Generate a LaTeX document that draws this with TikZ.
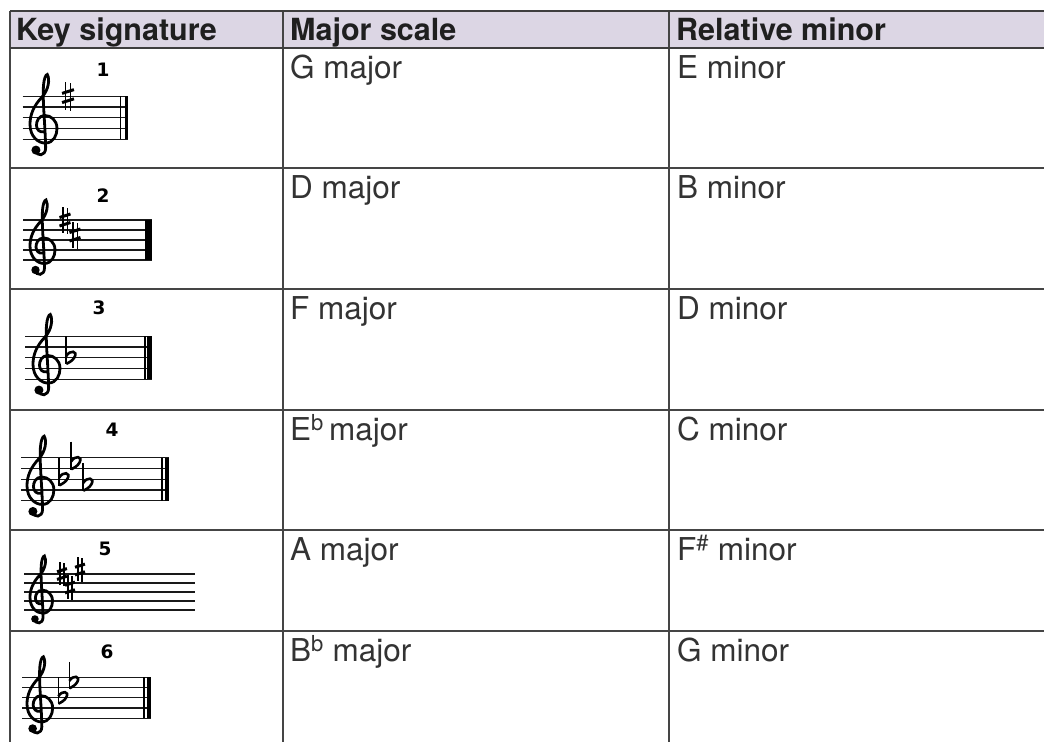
\documentclass[tikz,border=0pt]{standalone}
\usepackage{fontspec}
\setmainfont{TeX Gyre Heros}
\newfontfamily\numfont{DejaVu Sans}
\definecolor{hdrfill}{HTML}{DCD6E4}
\definecolor{rulecol}{HTML}{454545}
\definecolor{txtcol}{HTML}{333333}
\tikzset{
  gridline/.style={draw=rulecol, line width=1.6pt},
  hdrline/.style={draw=rulecol!90!black, line width=2.2pt},
  hdrtext/.style={anchor=base west, inner sep=0pt, text=black!88, font=\fontsize{30.5}{36}\selectfont\bfseries},
  celltext/.style={anchor=base west, inner sep=0pt, text=txtcol, font=\fontsize{31.5}{37}\selectfont},
  numlabel/.style={inner sep=0pt, text=black, font=\numfont\fontsize{18.5}{22}\selectfont\bfseries},
  staffline/.style={draw=black!90, line width=1.2pt},
  clefline/.style={draw=black, line width=2.8pt, line cap=round},
}
\newcommand\mysharp[4]{% x, Ybot, sp, pos
  \begin{scope}[shift={(#1,{#2-#4*#3})}, x=#3pt, y=#3pt]
    \draw[black, line width=1.4pt] (-0.22,-1.25) -- (-0.22,1.35);
    \draw[black, line width=1.4pt] (0.22,-1.35) -- (0.22,1.25);
    \draw[black, line width=3pt] (-0.55,-0.6) -- (0.55,-0.25);
    \draw[black, line width=3pt] (-0.55,0.25) -- (0.55,0.6);
  \end{scope}}
\newcommand\myflat[4]{% x, Ybot, sp, pos
  \begin{scope}[shift={(#1,{#2-#4*#3})}, x=#3pt, y=#3pt]
    \draw[black, line width=1.5pt] (-0.35,2.0) -- (-0.35,-0.6);
    \draw[black, line width=2.6pt] (-0.35,0.15) .. controls (0,0.75) and (0.75,0.65) .. (0.42,0.05)
       .. controls (0.25,-0.28) and (-0.1,-0.45) .. (-0.35,-0.57);
  \end{scope}}
\newcommand\myclef[3]{% x left, Ybot, sp
  \begin{scope}[shift={(#1,#2)}, x=#3pt, y=#3pt]
    \draw[clefline] (0.55,-1.05) .. controls (0.6,-1.6) and (1.45,-1.6) .. (1.45,-0.8)
      .. controls (1.4,1.5) and (1.15,3.5) .. (1.25,5.0)
      .. controls (1.3,5.6) and (1.45,6.0) .. (1.6,6.0)
      .. controls (1.85,5.6) and (1.75,4.6) .. (1.1,3.9)
      .. controls (0.35,3.1) and (0.0,2.3) .. (0.0,1.4)
      .. controls (0.0,0.2) and (0.8,-0.35) .. (1.4,-0.35)
      .. controls (2.2,-0.35) and (2.5,0.4) .. (2.5,1.0)
      .. controls (2.5,1.8) and (1.9,2.2) .. (1.4,2.2)
      .. controls (0.8,2.2) and (0.6,1.7) .. (0.6,1.3)
      .. controls (0.6,0.9) and (0.9,0.6) .. (1.3,0.7);
    \fill[black] (0.55,-1.0) circle (0.42);
  \end{scope}}
\newcommand\mystaff[4]{% x0, x1, Ybot, sp
  \foreach \k in {0,...,4} \draw[staffline] (#1,{#3-\k*#4}) -- (#2,{#3-\k*#4});}
\newcommand\mybar[5]{% thin x, thick x, thick width, Ybot, sp
  \draw[black, line width=1.1pt] (#1,#4) -- (#1,{#4-4*#5});
  \draw[black, line width=#3pt] (#2,#4) -- (#2,{#4-4*#5});}
\begin{document}
\begin{tikzpicture}[x=1pt,y=-1pt]
\useasboundingbox (0,0) rectangle (1044,742);
\fill[white] (0,0) rectangle (1044,742);
\fill[hdrfill] (10,11) rectangle (1044,48);
% grid
\foreach \yy in {168,289,410,530,631} \draw[gridline] (10,\yy) -- (1044,\yy);
\foreach \xx in {10,283,669} \draw[gridline] (\xx,11) -- (\xx,742);
\draw[hdrline] (10,11) -- (1044,11);
\draw[hdrline] (10,48) -- (1044,48);
% header
\node[hdrtext] (h1) at (16,40.5) {Key signature};
\node[hdrtext] (h2) at (290,40.5) {Major scale};
\node[hdrtext] (h3) at (676,40.5) {Relative minor};
% cells
\node[celltext] (m1) at (290,78) {G major};
\node[celltext] (r1) at (677,78) {E minor};
\node[celltext] (m2) at (290,198) {D major};
\node[celltext] (r2) at (677,198) {B minor};
\node[celltext] (m3) at (290,319) {F major};
\node[celltext] (r3) at (677,319) {D minor};
\node[celltext] (m4) at (290,440) {E\textsuperscript{b}\,major};
\node[celltext] (r4) at (677,440) {C minor};
\node[celltext] (m5) at (290,560) {A major};
\node[celltext] (r5) at (677,560) {F\textsuperscript{\#} minor};
\node[celltext] (m6) at (290,661) {B\textsuperscript{b} major};
\node[celltext] (r6) at (677,661) {G minor};
% staff 1
\mystaff{22.7}{127.7}{139.3}{10.8}
\mybar{120.7}{126}{3}{139.3}{10.8}
\myclef{30}{139.3}{10.8}
\mysharp{68}{139.3}{10.8}{4}
\node[numlabel] (k1) at (103,70) {1};
% staff 2
\mystaff{23}{152}{260}{10}
\mybar{146}{149.5}{5}{260}{10}
\myclef{30}{260}{10}
\mysharp{65}{260}{10}{4}
\mysharp{75}{260}{10}{2.5}
\node[numlabel] (k2) at (103,196) {2};
% staff 3
\mystaff{25}{152}{379.3}{10.8}
\mybar{145}{149.5}{5}{379.3}{10.8}
\myclef{33}{379.3}{10.8}
\myflat{70}{379.3}{10.8}{2}
\node[numlabel] (k3) at (99,308) {3};
% staff 4
\mystaff{21}{169}{500.7}{10.75}
\mybar{162}{167}{4.5}{500.7}{10.75}
\myclef{27}{500.7}{10.75}
\myflat{63}{500.7}{10.75}{2}
\myflat{75}{500.7}{10.75}{3.5}
\myflat{87}{500.7}{10.75}{1.5}
\node[numlabel] (k4) at (112,430) {4};
% staff 5
\mystaff{24}{195}{610}{9}
\myclef{30}{610}{9}
\mysharp{62}{610}{9}{4}
\mysharp{70}{610}{9}{2.5}
\mysharp{80}{610}{9}{4.5}
\node[numlabel] (k5) at (105,549) {5};
% staff 6
\mystaff{22}{151}{718.3}{10.25}
\mybar{144}{149}{4.5}{718.3}{10.25}
\myclef{27}{718.3}{10.25}
\myflat{62}{718.3}{10.25}{2}
\myflat{73}{718.3}{10.25}{3.5}
\node[numlabel] (k6) at (107,652) {6};
\end{tikzpicture}
\end{document}
